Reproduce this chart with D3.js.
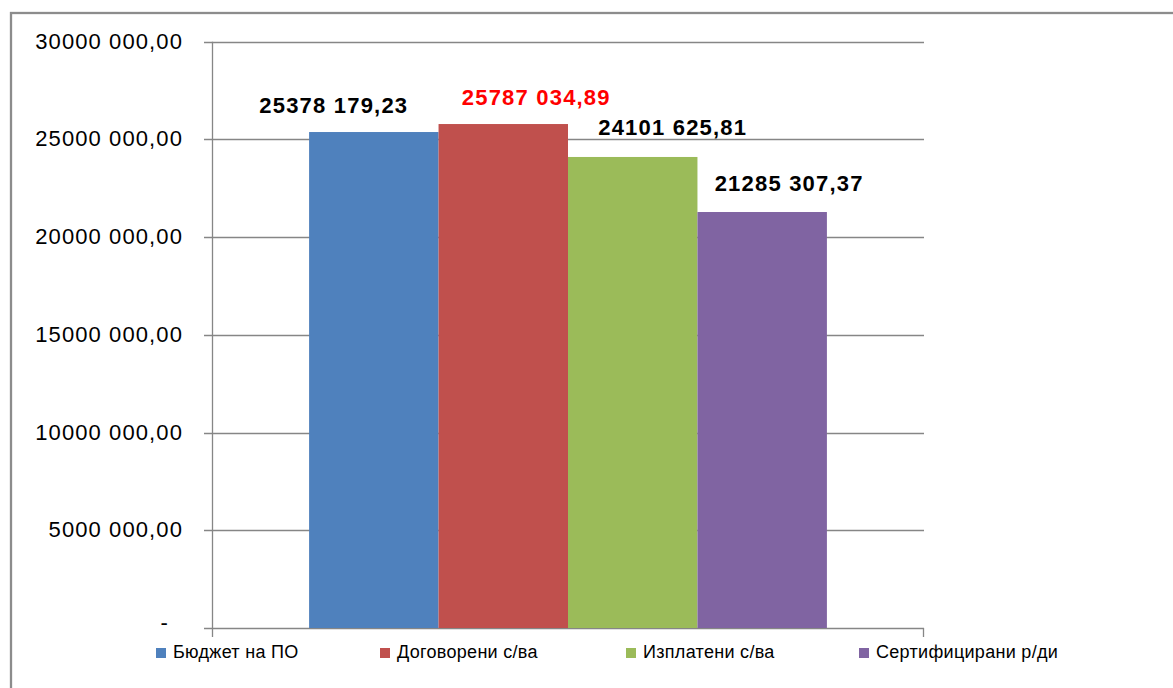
<!DOCTYPE html>
<html>
<head>
<meta charset="utf-8">
<title></title>
<style>
body { margin: 0; background: #fff; }
svg { display: block; }
.tick-label { font: 22px "Liberation Sans", Arial, sans-serif; letter-spacing: 1.1px; fill: #000; }
.bar-label { font: bold 22px "Liberation Sans", Arial, sans-serif; letter-spacing: 1.2px; }
.legend text { font: 18px "Liberation Sans", Arial, sans-serif; fill: #000; letter-spacing: 0.3px; }
</style>
</head>
<body>
<script src="https://cdn.jsdelivr.net/npm/d3@7"></script>
<script>

// data
var category = "2014";
var series = ["Бюджет на ПО", "Договорени с/ва", "Изплатени с/ва", "Сертифицирани р/ди"];
var values = [25378179.23, 25787034.89, 24101625.81, 21285307.37];
var yTicks = [0, 5000000, 10000000, 15000000, 20000000, 25000000, 30000000];

// looks
var colors = ["#4F81BD", "#C0504D", "#9BBB59", "#8064A2"];
var labelColors = ["#000", "#FF0000", "#000", "#000"];
// labels were dragged around by hand in the original, so nudge them
var labelNudge = [-40, 33, 40, 27];
var labelLift = [19, 19, 22, 21];

var width = 1173, height = 688;
var plot = {left: 212, right: 924, top: 41.7, bottom: 628};

var svg = d3.select("body").append("svg")
    .attr("width", width)
    .attr("height", height);

// outer frame, cut off on right and bottom like the screenshot
svg.append("rect")
    .attr("x", 11).attr("y", 13)
    .attr("width", 1300).attr("height", 800)
    .attr("fill", "none")
    .attr("stroke", "#8c8c8c")
    .attr("stroke-width", 2.3);

var y = d3.scaleLinear()
    .domain([0, 30000000])
    .range([plot.bottom, plot.top]);

var x0 = d3.scaleBand()
    .domain([category])
    .range([plot.left, plot.right])
    .paddingInner(0)
    .paddingOuter(0.1875);

var x1 = d3.scaleBand()
    .domain(series)
    .range([0, x0.bandwidth()]);

function fmt(v) {
  if (v === 0) return "-";
  var s = d3.format(".2f")(v).replace(".", ",");
  var parts = s.split(",");
  var intPart = parts[0];
  // thousands group only the last three digits, like Excel did here
  var head = intPart.slice(0, -3), tail = intPart.slice(-3);
  return (head ? head + " " : "") + tail + "," + parts[1];
}

// gridlines
svg.append("g")
    .selectAll("line")
    .data(yTicks)
    .enter().append("line")
    .attr("x1", plot.left - 8)
    .attr("x2", plot.right)
    .attr("y1", function(d) { return Math.round(y(d)) + 0.5; })
    .attr("y2", function(d) { return Math.round(y(d)) + 0.5; })
    .attr("stroke", "#868686")
    .attr("stroke-width", 1.3);

// y axis tick labels
svg.append("g")
    .selectAll("text")
    .data(yTicks)
    .enter().append("text")
    .attr("class", "tick-label")
    .attr("x", function(d) { return d === 0 ? 169 : 183; })
    .attr("y", function(d) { return y(d) + (d === 0 ? 2 : 7); })
    .attr("text-anchor", "end")
    .text(fmt);

// bars
var bars = svg.append("g");
bars.selectAll("rect")
    .data(values)
    .enter().append("rect")
    .attr("x", function(d, i) { return x0(category) + x1(series[i]); })
    .attr("y", function(d) { return y(d); })
    .attr("width", x1.bandwidth())
    .attr("height", function(d) { return y(0) - y(d); })
    .attr("fill", function(d, i) { return colors[i]; });

// y axis line + category axis end ticks
svg.append("line")
    .attr("x1", plot.left + 0.5).attr("x2", plot.left + 0.5)
    .attr("y1", plot.top).attr("y2", plot.bottom + 9)
    .attr("stroke", "#868686").attr("stroke-width", 1.3);
svg.append("line")
    .attr("x1", plot.right - 0.5).attr("x2", plot.right - 0.5)
    .attr("y1", plot.bottom).attr("y2", plot.bottom + 9)
    .attr("stroke", "#868686").attr("stroke-width", 1.3);

// value labels
svg.append("g")
    .selectAll("text")
    .data(values)
    .enter().append("text")
    .attr("class", "bar-label")
    .attr("x", function(d, i) { return x0(category) + x1(series[i]) + x1.bandwidth() / 2 + labelNudge[i]; })
    .attr("y", function(d, i) { return y(d) - labelLift[i]; })
    .attr("text-anchor", "middle")
    .attr("fill", function(d, i) { return labelColors[i]; })
    .text(fmt);

// legend
var legendX = [156, 380, 626, 859];
var legend = svg.append("g").attr("class", "legend")
    .selectAll("g")
    .data(series)
    .enter().append("g")
    .attr("transform", function(d, i) { return "translate(" + legendX[i] + ",648)"; });

legend.append("rect")
    .attr("width", 10).attr("height", 10)
    .attr("fill", function(d, i) { return colors[i]; });

legend.append("text")
    .attr("x", 17)
    .attr("y", 10)
    .text(function(d) { return d; });

</script>
</body>
</html>
